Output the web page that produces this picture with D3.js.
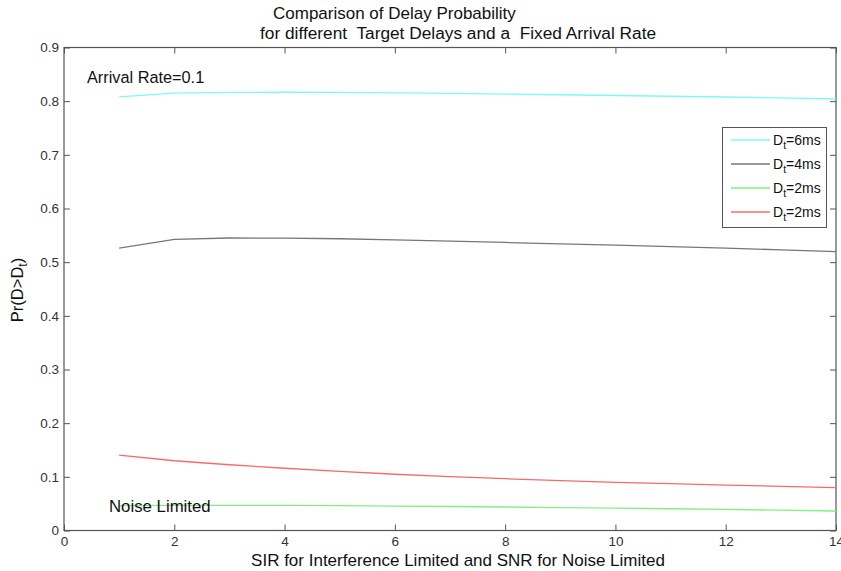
<!DOCTYPE html>
<html>
<head>
<meta charset="utf-8">
<script src="https://cdn.jsdelivr.net/npm/d3@7"></script>
<style>
  html, body { margin: 0; padding: 0; background: #fff; }
  svg text { font-family: "Liberation Sans", Arial, sans-serif; white-space: pre; }
</style>
</head>
<body>
<svg id="chart" width="841" height="571"></svg>
<script>
// ---- data ----
const xValues = [1, 2, 3, 4, 5, 6, 7, 8, 9, 10, 11, 12, 13, 14];
const delay6ms = [0.808, 0.8148, 0.8163, 0.8166, 0.8162, 0.8154, 0.8144, 0.8132, 0.8120, 0.8106, 0.8092, 0.8078, 0.8060, 0.8040];
const delay4ms = [0.526, 0.5425, 0.5450, 0.5448, 0.5436, 0.5416, 0.5392, 0.5367, 0.5342, 0.5316, 0.5290, 0.5262, 0.5230, 0.5195];
const delay2msNoise = [0.0462, 0.0470, 0.0470, 0.0468, 0.0462, 0.0455, 0.0447, 0.0438, 0.0428, 0.0417, 0.0405, 0.0392, 0.0378, 0.0363];
const delay2msInterf = [0.1405, 0.1300, 0.1225, 0.1160, 0.1100, 0.1048, 0.1005, 0.0965, 0.0928, 0.0898, 0.0872, 0.0847, 0.0823, 0.0800];
const seriesNames = ["6ms", "4ms", "2ms", "2ms"];
const seriesColors = ["#7ff8fa", "#777777", "#80f080", "#f86a6a"];
const xTicks = [0, 2, 4, 6, 8, 10, 12, 14];
const yTicks = [0, 0.1, 0.2, 0.3, 0.4, 0.5, 0.6, 0.7, 0.8, 0.9];
const titleLines = ["Comparison of Delay Probability", "for different  Target Delays and a  Fixed Arrival Rate"];
const xLabel = "SIR for Interference Limited and SNR for Noise Limited";
const annotations = ["Arrival Rate=0.1", "Noise Limited"];

const seriesData = [delay6ms, delay4ms, delay2msNoise, delay2msInterf];

// ---- layout ----
const svg = d3.select("#chart");
const pLeft = 64, pRight = 836, pTop = 47.5, pBottom = 530.5;
const x = d3.scaleLinear().domain([0, 14]).range([pLeft, pRight]);
const y = d3.scaleLinear().domain([0, 0.9]).range([pBottom, pTop]);
const axisColor = "#555";
const fontFam = "Liberation Sans, Arial, sans-serif";

// plot box
svg.append("rect")
  .attr("x", pLeft).attr("y", pTop)
  .attr("width", pRight - pLeft).attr("height", pBottom - pTop)
  .attr("fill", "none").attr("stroke", axisColor).attr("stroke-width", 1.2);

// bottom axis (ticks inward)
const xAxis = d3.axisBottom(x).tickValues(xTicks).tickSize(-6).tickPadding(6).tickFormat(d3.format("d"));
const gx = svg.append("g").attr("transform", `translate(0,${pBottom})`).call(xAxis);
gx.select(".domain").remove();
gx.selectAll(".tick line").attr("stroke", axisColor);
gx.selectAll(".tick text").attr("font-size", 13.5).attr("fill", "#333").attr("font-family", fontFam);

// top axis ticks (inward)
const gxt = svg.append("g").attr("transform", `translate(0,${pTop})`)
  .call(d3.axisTop(x).tickValues(xTicks).tickSize(-6).tickFormat(""));
gxt.select(".domain").remove();
gxt.selectAll(".tick line").attr("stroke", axisColor);

// left axis
const yAxis = d3.axisLeft(y).tickValues(yTicks).tickSize(-6).tickPadding(5)
  .tickFormat(d => d === 0 ? "0" : d3.format(".1f")(d));
const gy = svg.append("g").attr("transform", `translate(${pLeft},0)`).call(yAxis);
gy.select(".domain").remove();
gy.selectAll(".tick line").attr("stroke", axisColor);
gy.selectAll(".tick text").attr("font-size", 13.5).attr("fill", "#333").attr("font-family", fontFam);

// right axis ticks (inward)
const gyr = svg.append("g").attr("transform", `translate(${pRight},0)`)
  .call(d3.axisRight(y).tickValues(yTicks).tickSize(-6).tickFormat(""));
gyr.select(".domain").remove();
gyr.selectAll(".tick line").attr("stroke", axisColor);

// lines
const line = d3.line().x((d, i) => x(xValues[i])).y(d => y(d));
seriesData.forEach((s, i) => {
  svg.append("path").datum(s)
    .attr("d", line)
    .attr("fill", "none")
    .attr("stroke", seriesColors[i])
    .attr("stroke-width", 1.3);
});

// title
svg.append("text").attr("x", 273).attr("y", 18.5).attr("font-size", 17).attr("fill", "#111")
  .text(titleLines[0]);
svg.append("text").attr("x", 260).attr("y", 38.5).attr("font-size", 17.3).attr("fill", "#111")
  .text(titleLines[1]);

// x label
svg.append("text").attr("x", 458).attr("y", 566).attr("text-anchor", "middle")
  .attr("font-size", 17).attr("fill", "#111").text(xLabel);

// y label
const yl = svg.append("text").attr("transform", "translate(23,290) rotate(-90)")
  .attr("text-anchor", "middle").attr("font-size", 16.5).attr("fill", "#111");
yl.append("tspan").text("Pr(D>D");
yl.append("tspan").attr("font-size", 12).attr("dy", 4).text("t");
yl.append("tspan").attr("dy", -4).text(")");

// annotations
svg.append("text").attr("x", 87).attr("y", 83).attr("font-size", 16.3).attr("fill", "#111")
  .text(annotations[0]);
svg.append("text").attr("x", 109).attr("y", 512).attr("font-size", 16.8).attr("fill", "#111")
  .text(annotations[1]);

// legend
const lg = svg.append("g");
lg.append("rect").attr("x", 722.5).attr("y", 127.5).attr("width", 104).attr("height", 100)
  .attr("fill", "#fff").attr("stroke", axisColor).attr("stroke-width", 1);
seriesNames.forEach((n, i) => {
  const yy = 140 + i * 24;
  lg.append("line").attr("x1", 731).attr("x2", 770).attr("y1", yy).attr("y2", yy)
    .attr("stroke", seriesColors[i]).attr("stroke-width", 1.3);
  const t = lg.append("text").attr("x", 773).attr("y", yy + 5).attr("font-size", 14).attr("fill", "#111");
  t.append("tspan").text("D");
  t.append("tspan").attr("font-size", 10.5).attr("dy", 4).text("t");
  t.append("tspan").attr("dy", -4).text("=" + n);
});
</script>
</body>
</html>
